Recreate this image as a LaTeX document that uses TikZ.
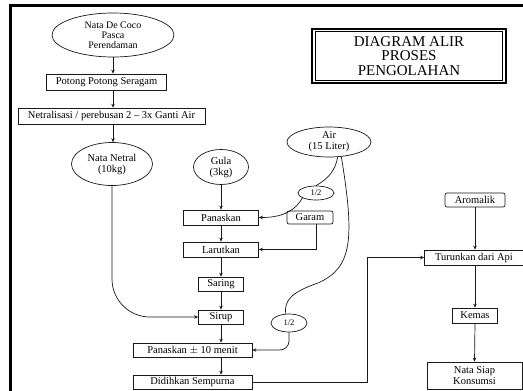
\documentclass[tikz,border=0pt]{standalone}
\usepackage{fontspec}
\setmainfont{Liberation Serif}
\usetikzlibrary{shapes.geometric,arrows.meta,calc}
\begin{document}
\begin{tikzpicture}[x=1pt,y=-1pt,
  every node/.style={font=\fontsize{10.5}{11}\selectfont, inner sep=0pt, text=black},
  box/.style={draw=black!90, line width=0.7pt, rectangle, align=center},
  rbox/.style={box, rounded corners=2pt},
  oval/.style={draw=black!90, line width=0.7pt, ellipse, align=center},
  arr/.style={draw=black!90, line width=0.7pt, -{Stealth[length=4pt,width=3.5pt]}},
  link/.style={draw=black!90, line width=0.7pt}
]
\useasboundingbox (0,0) rectangle (523,391);
\fill[white] (0,0) rectangle (523,391);
% page frame
\draw[line width=2.5pt] (8.5,5.5) -- (523,5.5);
\draw[line width=3pt] (10,5) -- (10,391);

% title
\node[draw, line width=1.3pt, minimum width=194pt, minimum height=54pt, align=center,
      font=\fontsize{15}{14.5}\selectfont] (title) at (409,56)
      {DIAGRAM ALIR\\PROSES\\PENGOLAHAN};
\draw[line width=0.6pt] ([shift={(4pt,-3pt)}]title.north west) rectangle ([shift={(-4pt,3pt)}]title.south east);

% left column
\node[oval, minimum width=122pt, minimum height=44pt, font=\fontsize{10}{10}\selectfont] (coco) at (113,35) {Nata De Coco\\Pasca\\Perendaman};
\node[box, minimum width=120pt, minimum height=16pt] (potong) at (106.5,82) {Potong Potong Seragam};
\node[box, minimum width=187pt, minimum height=16pt] (netr) at (111.5,116) {Netralisasi / perebusan 2 -- 3x Ganti Air};
\node[oval, minimum width=81pt, minimum height=43pt] (nn) at (112,164) {Nata Netral\\(10kg)};

% middle column
\node[oval, minimum width=55pt, minimum height=35pt] (gula) at (221,167) {Gula\\(3kg)};
\node[box, minimum width=75pt, minimum height=15pt] (pan) at (221,217.5) {Panaskan};
\node[box, minimum width=75pt, minimum height=15pt] (lar) at (221,249.5) {Larutkan};
\node[box, minimum width=45pt, minimum height=14pt] (sar) at (221,284) {Saring};
\node[box, minimum width=45pt, minimum height=14pt] (sir) at (221,317) {Sirup};
\node[box, minimum width=119pt, minimum height=14pt] (pan10) at (192.5,350) {Panaskan $\pm$ 10 menit};
\node[box, minimum width=119pt, minimum height=14pt] (did) at (192.5,382) {Didihkan Sempurna};

% water and salt
\node[oval, minimum width=84pt, minimum height=30pt] (air) at (329,142) {Air\\(15 Liter)};
\node[oval, minimum width=36pt, minimum height=14pt, font=\fontsize{8.5}{9}\selectfont] (h1) at (316,193) {1/2};
\node[rbox, minimum width=46pt, minimum height=13pt] (garam) at (310,217.5) {Garam};
\node[oval, minimum width=36pt, minimum height=18pt, font=\fontsize{8.5}{9}\selectfont] (h2) at (289,323) {1/2};

% right column
\node[rbox, minimum width=60pt, minimum height=14pt] (arom) at (475,200) {Aromalik};
\node[box, minimum width=99pt, minimum height=15pt] (tur) at (474,257.5) {Turunkan dari Api};
\node[box, minimum width=45pt, minimum height=15pt] (kem) at (475,315.5) {Kemas};
\node[box, minimum width=95pt, minimum height=27pt] (siap) at (474.5,375.5) {Nata Siap\\Konsumsi};

% connectors
\draw[arr] (coco.south) -- (coco.south |- potong.north);
\draw[arr] (coco.south |- potong.south) -- (coco.south |- netr.north);
\draw[arr] (coco.south |- netr.south) -- (coco.south |- nn.north);
\draw[arr, rounded corners=38pt] (nn.south) |- (sir.west);

\draw[arr] (gula.south) -- (pan.north);
\draw[arr] (pan.south) -- (lar.north);
\draw[arr] (lar.south) -- (sar.north);
\draw[arr] (sar.south) -- (sir.north);
\draw[arr] (sir.south) -- (sir.south |- pan10.north);
\draw[arr] (sir.south |- pan10.south) -- (sir.south |- did.north);

\draw[link] (air.300) to[out=-100,in=30] (h1.north);
\draw[arr] (h1.200) to[out=-120,in=0] (pan.east);
\draw[arr] ([xshift=6pt]garam.south) |- (lar.east);
\draw[link] (air.310) .. controls (355,240) and (352,268) .. (318,283)
                      .. controls (292,292) and (284,300) .. (h2.110);
\draw[arr, rounded corners=9pt] (h2.south) |- (pan10.east);

\draw[arr] (did.east) -| ([xshift=-57pt]tur.west) -- (tur.west);
\draw[arr] (arom.south) -- (arom.south |- tur.north);
\draw[arr] (arom.south |- tur.south) -- (kem.north);
\draw[arr] (kem.south) -- (siap.north);
\end{tikzpicture}
\end{document}
